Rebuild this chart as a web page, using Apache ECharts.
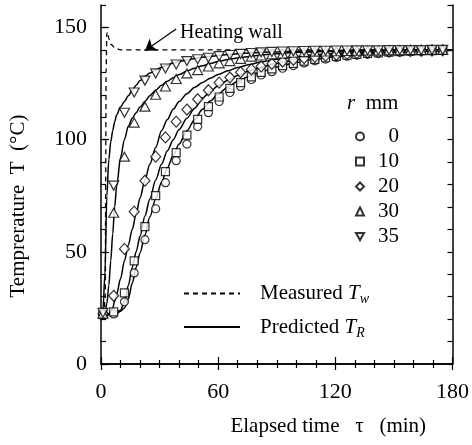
<!DOCTYPE html>
<html>
<head>
<meta charset="utf-8">
<script src="https://cdn.jsdelivr.net/npm/echarts@6/dist/echarts.min.js"></script>
<style>
  html, body { margin: 0; padding: 0; background: #fff; }
  #chart { width: 472px; height: 445px; }
</style>
</head>
<body>
<div id="chart"></div>
<script>
// measured points (every ~5.5 min)
const measTime = [1, 6.5, 12, 17, 22.5, 28, 33, 38.5, 44, 49.5, 55, 60.5, 66, 71.5, 77, 82, 87.5, 93, 98.5, 104, 109.5, 115, 120.5, 126, 131, 136.5, 142, 147.5, 153, 158.5, 164, 169.5, 175];
const measR0  = [22, 22.3, 27.7, 40.6, 55.4, 69.2, 80.8, 90.6, 98, 105.8, 112, 117, 121, 123.7, 126.8, 128.8, 130.3, 131.8, 133, 134.2, 135.1, 135.9, 136.6, 137.2, 137.7, 138.1, 138.5, 138.8, 139.1, 139.3, 139.5, 139.6, 139.7];
const measR10 = [22, 23.2, 31.7, 46, 61.2, 75, 85.7, 94.2, 102, 109, 114.7, 119, 122.8, 125.4, 128, 130, 131.5, 133, 134, 135, 135.8, 136.5, 137.1, 137.6, 138, 138.4, 138.7, 139, 139.2, 139.4, 139.6, 139.7, 139.8];
const measR20 = [22.5, 30.4, 51.3, 67.9, 81.7, 92.4, 101, 108, 113.4, 118, 122, 125.4, 127.7, 130, 131.3, 132.6, 133.8, 134.8, 135.6, 136.3, 136.9, 137.4, 137.8, 138.2, 138.5, 138.8, 139, 139.2, 139.4, 139.5, 139.6, 139.7, 139.8];
const measR30 = [22.5, 67.4, 92.4, 107.6, 114.7, 120, 123.7, 127, 129.5, 131, 132.6, 134, 135, 136, 137, 137.5, 138, 138.4, 138.7, 139, 139.2, 139.3, 139.4, 139.5, 139.6, 139.7, 139.7, 139.8, 139.8, 139.9, 139.9, 140, 140];
const measR35 = [22.8, 79.5, 112, 121, 126.3, 129.5, 131.7, 133.5, 135, 135.8, 136.5, 137.2, 137.7, 138.2, 138.6, 138.9, 139.1, 139.3, 139.4, 139.5, 139.6, 139.6, 139.7, 139.7, 139.8, 139.8, 139.8, 139.9, 139.9, 139.9, 139.9, 140, 140];

// predicted curves
const predTime = [0, 1, 2, 3, 4, 5, 6, 7, 8, 10, 12, 14, 16, 18, 20, 22.5, 25, 28, 31, 34, 37, 40, 44, 48, 52, 56, 60, 65, 70, 76, 82, 90, 100, 110, 120, 135, 150, 165, 180];
const predR0  = [22, 22, 22, 22, 22, 22, 22.1, 22.3, 22.5, 23.5, 25, 29, 36, 43, 49.5, 57.5, 65.5, 73.5, 81, 87.5, 93, 98, 104, 109, 113.5, 117.2, 120.3, 123.5, 126, 128.3, 130.2, 132.4, 134.4, 135.8, 136.9, 138.1, 138.9, 139.4, 139.8];
const predR10 = [22, 22, 22, 22, 22, 22.2, 22.5, 22.8, 23.2, 24, 28, 35, 43, 50, 57, 66, 73.5, 82, 89, 95, 100, 104.5, 109.5, 114, 118.5, 121.5, 124, 126.5, 128.6, 130.7, 132.3, 134, 135.6, 136.8, 137.7, 138.6, 139.2, 139.6, 139.9];
const predR20 = [22, 22, 22, 22.2, 22.5, 23.5, 25, 28, 31, 38, 46, 53, 60, 67, 74, 82, 89, 96.5, 104, 109, 113.5, 117, 120.5, 123.3, 125.5, 127.4, 129, 130.7, 132.1, 133.5, 134.6, 135.8, 137, 137.8, 138.5, 139.1, 139.5, 139.8, 140];
const predR30 = [22, 22, 23, 27, 35, 46, 58, 70, 79, 92, 100, 106, 109.5, 112, 114.5, 117, 119.6, 122, 124.2, 126, 127.6, 129, 130.6, 131.8, 132.9, 133.9, 134.8, 135.7, 136.4, 137.1, 137.7, 138.3, 138.9, 139.2, 139.5, 139.7, 139.8, 139.9, 140];
const predR35 = [22, 24, 40, 75, 91, 99, 104, 108, 111, 114.5, 117, 119.5, 122, 124.2, 126.3, 128.2, 129.7, 131, 132.3, 133.3, 134.1, 134.8, 135.5, 136.2, 136.7, 137.1, 137.5, 137.9, 138.3, 138.6, 138.9, 139.1, 139.4, 139.6, 139.7, 139.8, 139.9, 140, 140];

// heating wall (measured Tw)
const wallTime = [0, 1.5, 2.2, 2.4, 2.6, 3, 3.5, 4, 5, 7.5, 10, 20, 60, 120, 180];
const wallTemp = [22, 23, 30, 80, 130, 147.5, 148, 145, 142.5, 140.6, 140, 140, 140, 140, 140];

const xLabels = [0, 60, 120, 180];
const yLabels = [0, 50, 100, 150];
const radii = ['0', '10', '20', '30', '35'];

const FONT = 'Liberation Serif';
const chart = echarts.init(document.getElementById('chart'));

const pairs = (xs, ys) => xs.map((x, i) => [x, ys[i]]);

const markerDefs = [
    { data: measR0, symbol: 'circle', size: 8 },
    { data: measR10, symbol: 'rect', size: 8 },
    { data: measR20, symbol: 'diamond', size: [10, 11] },
    { data: measR30, symbol: 'triangle', size: [10, 9] },
    { data: measR35, symbol: 'path://M0,0L10,0L5,9Z', size: [10, 9] }
];

const scatterSeries = markerDefs.map((m, i) => ({
    name: radii[i],
    type: 'scatter',
    data: pairs(measTime, m.data),
    symbol: m.symbol,
    symbolSize: m.size,
    itemStyle: { color: '#fff', borderColor: '#000', borderWidth: 1.2 },
    z: 5
}));

const predSeries = [predR0, predR10, predR20, predR30, predR35].map(vals => ({
    name: 'Predicted TR',
    type: 'line',
    data: pairs(predTime, vals),
    symbol: 'none',
    smooth: 0.3,
    smoothMonotone: 'x',
    itemStyle: { color: '#000' },
    lineStyle: { color: '#000', width: 1.5 },
    z: 3
}));

const wallSeries = {
    name: 'Measured Tw',
    type: 'line',
    data: pairs(wallTime, wallTemp),
    symbol: 'none',
    smooth: 0.3,
    smoothMonotone: 'x',
    itemStyle: { color: '#000' },
    lineStyle: { color: '#000', width: 1.3, type: [5, 4] },
    z: 2,
    markLine: {
        silent: true,
        symbol: ['none', 'arrow'],
        symbolSize: 11,
        label: { show: false },
        lineStyle: { color: '#000', width: 1.3, type: 'solid' },
        data: [[{ coord: [38.5, 149.3] }, { coord: [22.5, 139.6] }]]
    }
};

const axisLineStyle = { show: true, lineStyle: { color: '#000', width: 1.5 } };
const tickStyle = { color: '#000', width: 1.2 };

option = {
    animation: false,
    backgroundColor: '#fff',
    grid: { left: 95, right: 18, top: 5, bottom: 81 },
    xAxis: [
        {
            type: 'value', position: 'bottom', min: 0, max: 180, interval: 60,
            axisLine: axisLineStyle,
            axisTick: { inside: true, length: 7, lineStyle: tickStyle },
            minorTick: { show: true, splitNumber: 6, length: 4, lineStyle: tickStyle },
            splitLine: { show: false },
            axisLabel: {
                color: '#000', fontFamily: FONT, fontSize: 22, margin: 17,
                formatter: v => xLabels.includes(v) ? String(v) : ''
            },
            name: 'Elapsed time   τ   (min)',
            nameLocation: 'middle',
            nameGap: 52,
            nameTextStyle: { color: '#000', fontFamily: FONT, fontSize: 21, padding: [0, 0, 0, 103] }
        },
        {
            type: 'value', position: 'top', min: 0, max: 180, interval: 60,
            axisLine: axisLineStyle,
            axisTick: { inside: true, length: 6, lineStyle: tickStyle },
            minorTick: { show: true, splitNumber: 6, length: 4, lineStyle: tickStyle },
            splitLine: { show: false },
            axisLabel: { show: false }
        }
    ],
    yAxis: [
        {
            type: 'value', position: 'left', min: 0, max: 160, interval: 50,
            axisLine: axisLineStyle,
            axisTick: { inside: true, length: 8, lineStyle: tickStyle },
            splitLine: { show: false },
            axisLabel: {
                color: '#000', fontFamily: FONT, fontSize: 22, margin: 14,
                showMaxLabel: false,
                formatter: v => yLabels.includes(v) ? String(v) : ''
            },
            name: 'Temprerature  T  (°C)',
            nameLocation: 'middle',
            nameGap: 72,
            nameTextStyle: { color: '#000', fontFamily: FONT, fontSize: 21, padding: [0, 43, 0, 0] }
        },
        {
            type: 'value', position: 'left', min: 0, max: 160, interval: 10,
            axisLine: { show: false },
            axisTick: { inside: true, length: 5, lineStyle: tickStyle },
            splitLine: { show: false },
            axisLabel: { show: false }
        },
        {
            type: 'value', position: 'right', min: 0, max: 160, interval: 10,
            axisLine: axisLineStyle,
            axisTick: { inside: true, length: 5, lineStyle: tickStyle },
            splitLine: { show: false },
            axisLabel: { show: false }
        }
    ],
    legend: [
        {
            data: radii,
            orient: 'vertical',
            left: 350, top: 121,
            itemWidth: 8, itemHeight: 8, itemGap: 4,
            selectedMode: false,
            formatter: name => '{n|' + name + '}',
            textStyle: {
                color: '#000', fontFamily: FONT, fontSize: 21,
                rich: { n: { width: 30, align: 'right', fontFamily: FONT, fontSize: 21, lineHeight: 20, color: '#000' } }
            }
        },
        {
            data: ['Measured Tw', 'Predicted TR'],
            orient: 'vertical',
            left: 178, top: 278,
            itemWidth: 56, itemHeight: 14, itemGap: 10,
            selectedMode: false,
            itemStyle: { opacity: 0 },
            formatter: name => name === 'Measured Tw'
                ? '{sp|}{a|Measured }{i|T}{s|w}'
                : '{sp|}{a|Predicted }{i|T}{s|R}',
            textStyle: {
                color: '#000', fontFamily: FONT, fontSize: 21,
                rich: {
                    sp: { width: 15 },
                    a: { fontFamily: FONT, fontSize: 21, lineHeight: 22, color: '#000' },
                    i: { fontFamily: FONT, fontSize: 21, fontStyle: 'italic', lineHeight: 22, color: '#000' },
                    s: { fontFamily: FONT, fontSize: 14, fontStyle: 'italic', padding: [12, 0, 0, 0], color: '#000' }
                }
            }
        }
    ],
    graphic: [
        {
            type: 'text', left: 180, top: 23,
            style: { text: 'Heating wall', font: '20px "Liberation Serif"', fill: '#000' }
        },
        {
            type: 'text', left: 347, top: 93,
            style: {
                text: '{i|r}{a|  mm}',
                rich: {
                    i: { fontFamily: FONT, fontSize: 21, fontStyle: 'italic' },
                    a: { fontFamily: FONT, fontSize: 21 }
                },
                fill: '#000'
            }
        }
    ],
    series: [wallSeries, ...predSeries, ...scatterSeries]
};

chart.setOption(option);
</script>
</body>
</html>
